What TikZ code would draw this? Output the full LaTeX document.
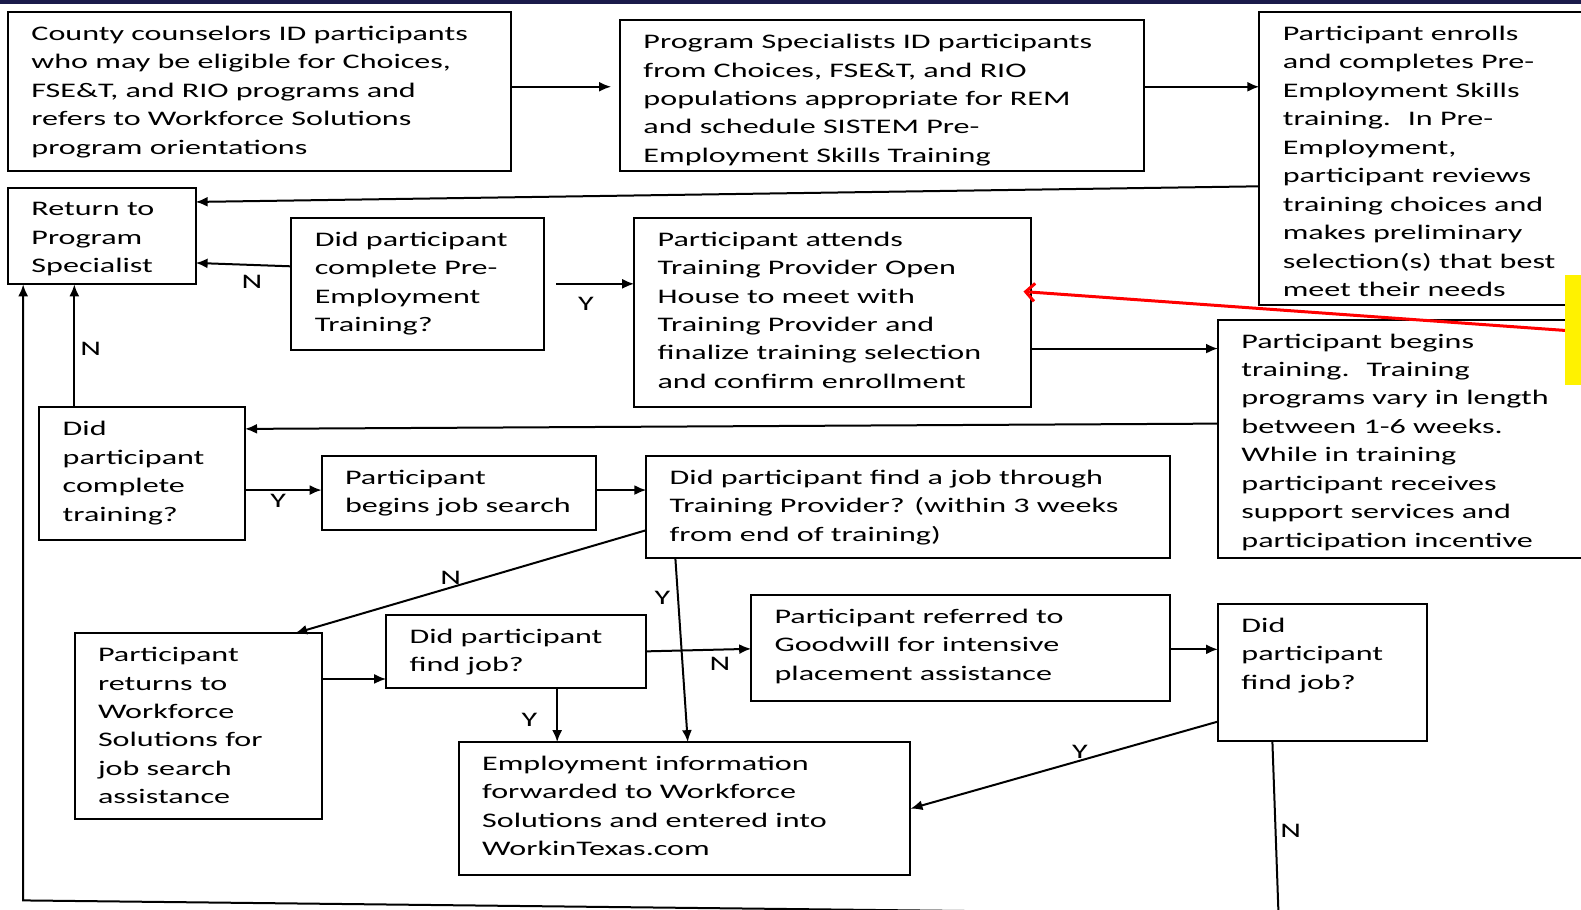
\documentclass[tikz,border=0pt]{standalone}
\usepackage{fontspec}
\setmainfont{Carlito}[FakeStretch=1.55]
\usetikzlibrary{arrows.meta,calc}
\definecolor{navyband}{HTML}{1A1A4A}

\tikzset{
  flowrect/.style={draw, line width=2pt, anchor=north west, inner sep=0pt, outer sep=0pt},
  flowtxt/.style={anchor=north west, inner sep=0pt, align=left, font=\fontsize{20.7}{28.45}\selectfont},
  conn/.style={line width=2pt, -{Latex[length=12pt,width=10pt]}},
  lbl/.style={font=\fontsize{20.7}{24}\selectfont, inner sep=0pt},
}

% box: name, x, y (top-left), width, height, text
\newcommand\flowbox[6]{%
  \node[flowrect, minimum width={#4*1.0083pt}, minimum height={#5*1.0083pt}] (#1) at (#2,#3) {};
  \node[flowtxt] (#1t) at ($(#1.north west)+(23,12.1)$) {\rule{0pt}{16pt}#6};
}

\begin{document}
\begin{tikzpicture}[x=1.0083pt, y=-1.0083pt]
\useasboundingbox (0,0) rectangle (1568,902);
\clip (0,0) rectangle (1568,902);
\fill[white] (0,0) rectangle (1568,902);
\fill[navyband] (0,0) rectangle (1568,3.5);

% boxes
\flowbox{A}{8}{12}{499}{158}{County counselors ID participants\\who may be eligible for Choices,\\FSE\&T, and RIO programs and\\refers to Workforce Solutions\\program orientations}
\flowbox{B}{615}{20}{520}{150}{Program Specialists ID participants\\from Choices, FSE\&T, and RIO\\populations appropriate for REM\\and schedule SISTEM Pre-\\Employment Skills Training}
\flowbox{C}{1249}{12}{400}{290}{Participant enrolls\\and completes Pre-\\Employment Skills\\training.~ In Pre-\\Employment,\\participant reviews\\training choices and\\makes preliminary\\selection(s) that best\\meet their needs}
\flowbox{D}{8}{186}{186}{96}{Return to\\Program\\Specialist}
\flowbox{E}{289}{216}{251}{131}{Did participant\\complete Pre-\\Employment\\Training?}
\flowbox{F}{629}{216}{394}{188}{Participant attends\\Training Provider Open\\House to meet with\\Training Provider and\\finalize training selection\\and confirm enrollment}
\flowbox{G}{1208}{317}{400}{236}{Participant begins\\training.~ Training\\programs vary in length\\between 1-6 weeks.\\While in training\\participant receives\\support services and\\participation incentive}
\flowbox{H}{39}{404}{204}{132}{Did\\participant\\complete\\training?}
\flowbox{I}{319}{452}{272}{74}{Participant\\begins job search}
\flowbox{J}{641}{452}{519}{101}{Did participant find a job through\\Training Provider? (within 3 weeks\\from end of training)}
\flowbox{K}{74}{628}{245}{184}{Participant\\returns to\\Workforce\\Solutions for\\job search\\assistance}
\flowbox{L}{383}{610}{258}{72}{Did participant\\find job?}
\flowbox{Q}{745}{590}{415}{105}{Participant referred to\\Goodwill for intensive\\placement assistance}
\flowbox{P}{1208}{599}{207}{136}{Did\\participant\\find job?}
\flowbox{M}{455}{736}{448}{132}{Employment information\\forwarded to Workforce\\Solutions and entered into\\WorkinTexas.com}

% highlight marker
\node[fill=yellow, anchor=north west, minimum width=30pt, minimum height={109*1.0083pt}, inner sep=0pt] (hl) at (1552,273) {};

% connectors
\draw[conn, shorten >=9pt] ([yshift=5pt]A.east) -- ([yshift=5pt]A.east -| B.west);
\draw[conn] ([yshift=9pt]B.east) -- ([yshift=9pt]B.east -| C.west);
\draw[conn] ([yshift=-28pt]C.west) -- ([yshift=34pt]D.east);
\draw[conn] ([yshift=17.5pt]E.west) -- ([yshift=-27pt]D.east);
\draw[conn] ([xshift=12pt]E.east) -- (E.east -| F.west);
\draw[conn] ([yshift=-36pt]F.east) -- ([yshift=-36pt]F.east -| G.west);
\draw[conn] ([yshift=15pt]G.west) -- ([yshift=45pt]H.east);
\draw[conn] ([xshift=35pt]H.north west) -- ([xshift=35pt]H.north west |- D.south);
\coordinate (loopR) at (1268,907);
\coordinate (loopL) at (23,893);
\draw[conn] ([xshift=-50pt]P.south) -- (loopR) -- (loopL) -- (loopL |- D.south);
\draw[conn] ([yshift=3pt]I.west -| H.east) -- ([yshift=3pt]I.west);
\draw[conn] ([yshift=3pt]I.east) -- ([yshift=3pt]I.east -| J.west);
\draw[conn] ([yshift=-23.5pt]J.west) -- ([xshift=97pt]K.north);
\draw[conn] ([xshift=29pt]J.south west) -- ([xshift=229pt]M.north west);
\draw[conn] ([yshift=47pt]K.east) -- ([yshift=47pt]K.east -| L.west);
\draw[conn] ([xshift=171pt]L.south west) -- ([xshift=171pt]L.south west |- M.north);
\draw[conn] (L.east) -- ([yshift=-1pt]Q.west);
\draw[conn] ([yshift=-1.5pt]Q.east) -- ([yshift=-1.5pt]Q.east -| P.west);
\draw[conn] ([yshift=-49pt]P.west) -- (M.east);

% red pointer
\draw[red, line width=3pt, -{Straight Barb[length=9pt,width=18pt]}] (hl.west) -- ([xshift=-8pt,yshift=21pt]F.east);

% branch labels
\node[lbl] (n1) at (250,280) {N};
\node[lbl] (y1) at (581,301) {Y};
\node[lbl] (n2) at (90,346) {N};
\node[lbl] (y2) at (276,497) {Y};
\node[lbl] (n3) at (447,573) {N};
\node[lbl] (y3) at (657,593) {Y};
\node[lbl] (y4) at (525,714) {Y};
\node[lbl] (n4) at (714,658) {N};
\node[lbl] (y5) at (1071,746) {Y};
\node[lbl] (n5) at (1280,824) {N};
\end{tikzpicture}
\end{document}
